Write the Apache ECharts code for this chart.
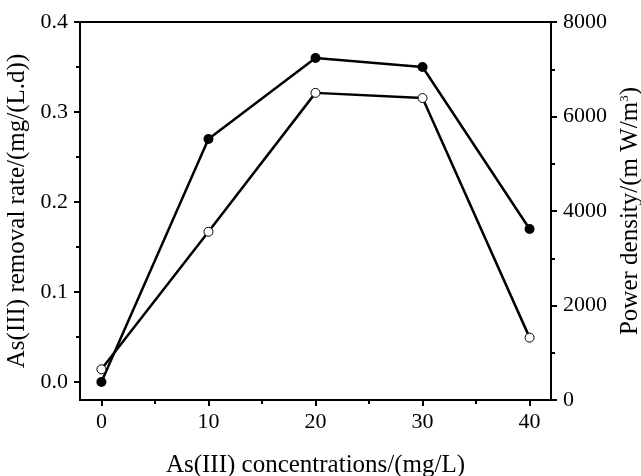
<!DOCTYPE html>
<html>
<head>
<meta charset="utf-8">
<script src="https://cdn.jsdelivr.net/npm/echarts@6/dist/echarts.min.js"></script>
<style>html,body{margin:0;padding:0;background:#fff}#c{width:641px;height:476px}</style>
</head>
<body>
<div id="c"></div>
<script>
var concentrations = [0, 10, 20, 30, 40];
var removalRate = [0.0, 0.27, 0.36, 0.35, 0.17];
var powerDensity = [650, 3560, 6500, 6390, 1320];
var xMajorTicks = [0, 10, 20, 30, 40];
var xMinorTicks = [5, 15, 25, 35];
var leftMajorTicks = [0, 0.1, 0.2, 0.3, 0.4];
var leftMinorTicks = [0.05, 0.15, 0.25, 0.35];

var FONT = 'Liberation Serif';
var chart = echarts.init(document.getElementById('c'));
function pairs(ys){ return concentrations.map(function(x,i){ return [x, ys[i]]; }); }
var txt = {color:'#000', fontFamily:FONT, fontSize:22};
chart.setOption({
  animation:false,
  grid:{left:80, right:90, top:22, bottom:76, containLabel:false, outerBoundsMode:'none',
        show:true, borderColor:'#000', borderWidth:2, backgroundColor:'transparent'},
  xAxis:[{
    type:'value', min:-2, max:42, position:'bottom',
    axisLine:{show:true, onZero:false, lineStyle:{color:'#000', width:2}},
    axisTick:{show:true, customValues:xMajorTicks, length:6, lineStyle:{color:'#000', width:2}},
    axisLabel:Object.assign({customValues:xMajorTicks, margin:11}, txt),
    splitLine:{show:false},
    name:'As(III) concentrations/(mg/L)', nameLocation:'middle', nameGap:53,
    nameTextStyle:{color:'#000', fontFamily:FONT, fontSize:25}
  },{
    type:'value', min:-2, max:42, position:'bottom',
    axisLine:{show:false, onZero:false},
    axisTick:{show:true, customValues:xMinorTicks, length:4, lineStyle:{color:'#000', width:2}},
    axisLabel:{show:false}, splitLine:{show:false}
  }],
  yAxis:[{
    type:'value', min:-0.02, max:0.4, position:'left',
    axisLine:{show:true, onZero:false, lineStyle:{color:'#000', width:2}},
    axisTick:{show:true, customValues:leftMajorTicks, length:6, lineStyle:{color:'#000', width:2}},
    axisLabel:Object.assign({customValues:leftMajorTicks, margin:12, formatter:function(v){return v.toFixed(1);}}, txt),
    splitLine:{show:false},
    name:'As(III) removal rate/(mg/(L.d))', nameLocation:'middle', nameGap:50,
    nameTextStyle:{color:'#000', fontFamily:FONT, fontSize:25}
  },{
    type:'value', min:0, max:8000, interval:2000, position:'right',
    axisLine:{show:true, onZero:false, lineStyle:{color:'#000', width:2}},
    axisTick:{show:true, length:6, lineStyle:{color:'#000', width:2}},
    minorTick:{show:true, splitNumber:2, length:4, lineStyle:{color:'#000', width:2}},
    axisLabel:Object.assign({margin:12, formatter:function(v){return String(v);}}, txt),
    splitLine:{show:false},
    name:'{a|Power density/(m W/m}{s|3}{a|)}', nameLocation:'middle', nameGap:60,
    nameTextStyle:{color:'#000', fontFamily:FONT, fontSize:25,
      rich:{a:{color:'#000', fontFamily:FONT, fontSize:25}, s:{color:'#000', fontFamily:FONT, fontSize:13, verticalAlign:'top', padding:[0,0,10,0]}}}
  },{
    type:'value', min:-0.02, max:0.4, position:'left',
    axisLine:{show:false, onZero:false},
    axisTick:{show:true, customValues:leftMinorTicks, length:4, lineStyle:{color:'#000', width:2}},
    axisLabel:{show:false}, splitLine:{show:false}
  }],
  series:[{
    type:'line', xAxisIndex:0, yAxisIndex:0, data:pairs(removalRate),
    symbol:'circle', symbolSize:10,
    lineStyle:{color:'#000', width:2.5},
    itemStyle:{color:'#000', borderColor:'#000', borderWidth:0}, z:3
  },{
    type:'line', xAxisIndex:0, yAxisIndex:1, data:pairs(powerDensity),
    symbol:'circle', symbolSize:9, showAllSymbol:true,
    lineStyle:{color:'#000', width:2.5},
    itemStyle:{color:'#fff', borderColor:'#000', borderWidth:1}, z:4
  }]
});
</script>
</body>
</html>
